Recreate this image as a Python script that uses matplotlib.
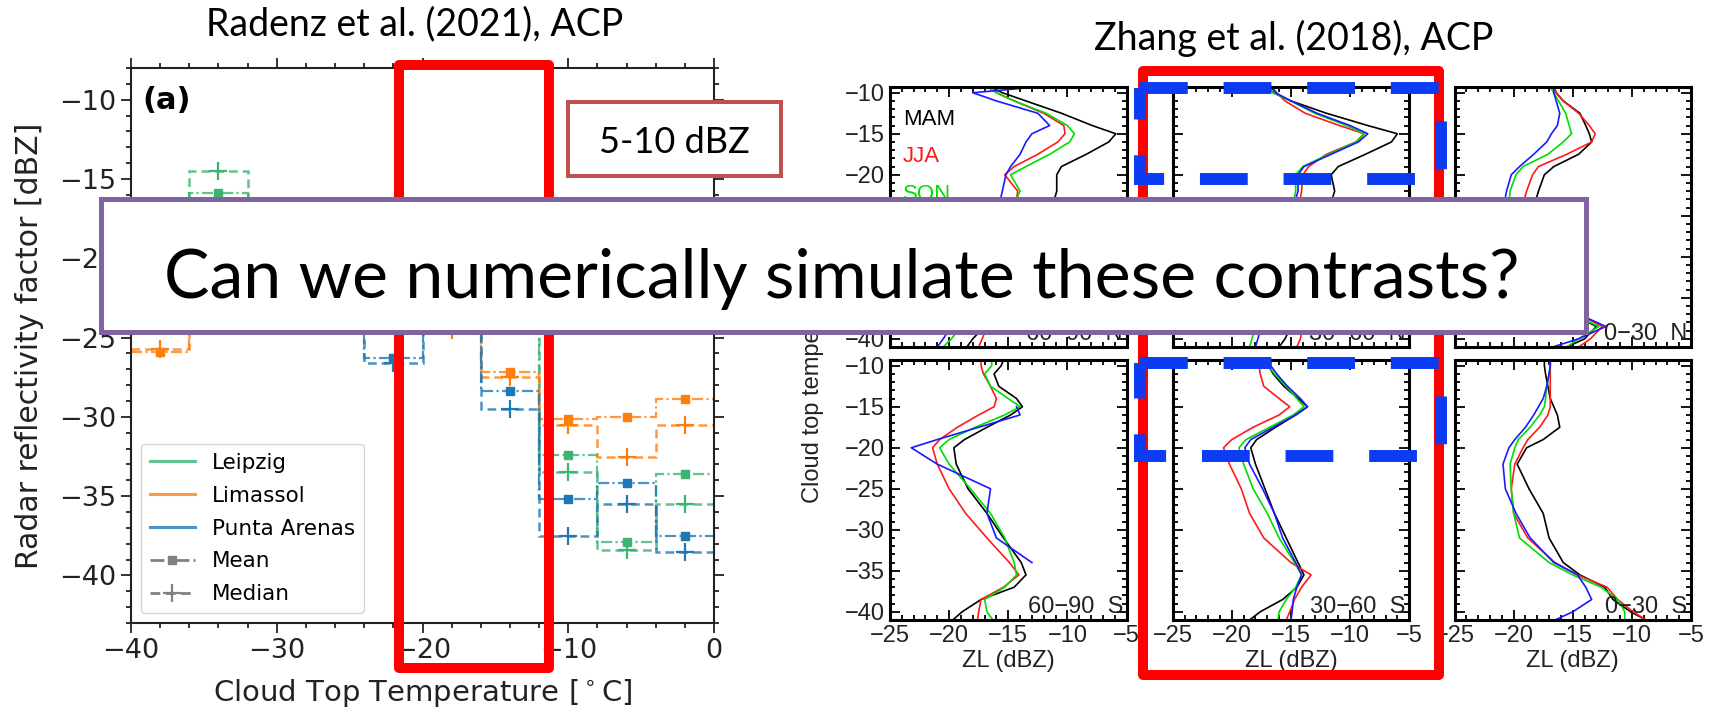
import matplotlib
matplotlib.use("Agg")
import matplotlib.pyplot as plt
import numpy as np
from matplotlib.lines import Line2D
from matplotlib.patches import Rectangle
from matplotlib.ticker import MultipleLocator

# ---------------- data: Radenz et al. (2021), binned by cloud top temperature
ctt_edges = [-40, -36, -32, -28, -24, -20, -16, -12, -8, -4, 0]
ctt_centers = [-38, -34, -30, -26, -22, -18, -14, -10, -6, -2]

leipzig_mean = [-19.0, -15.9, -18.5, -20.0, -21.5, -20.5, -22.0, -32.4, -37.9, -33.6]
leipzig_median = [-20.5, -14.5, -19.5, -21.5, -23.0, -22.0, -23.5, -33.5, -38.4, -35.5]
limassol_mean = [-25.9, -21.0, -22.0, -23.5, -23.0, -24.0, -27.15, -30.15, -30.0, -28.9]
limassol_median = [-25.7, -22.0, -23.0, -24.0, -24.0, -24.5, -27.5, -30.5, -32.5, -30.5]
punta_mean = [-20.0, -19.0, -21.0, -22.0, -26.3, -23.0, -28.4, -35.2, -34.2, -37.5]
punta_median = [-21.0, -20.0, -22.0, -23.0, -26.6, -24.0, -29.5, -37.5, -35.5, -38.5]

site_names = ["Leipzig", "Limassol", "Punta Arenas"]
site_colors = ["#3cb371", "#ff7f0e", "#1f77b4"]

# ---------------- data: Zhang et al. (2018), ZL profiles per season
zl_temp = [-9.3, -10, -11, -12.5, -14, -15, -16, -17.5, -19, -20,
           -22, -25, -28, -31, -34, -35.5, -37, -38.5, -40, -41]
seasons = ["MAM", "JJA", "SON", "DJF"]
season_colors = ["black", "#ff1a1a", "#00dd00", "#1a1aff"]
nan = np.nan

zl_60_90N = [
    [-16.5, -15.5, -13.5, -10.5, -7.9, -5.9, -6.5, -8.4, -10.5, -10.9, -10.9, -11.5, -12.0, -13.0, -14.0, -15.0, -16.0, -17.0, -18.0, -18.5],
    [-16.3, -16.0, -14.5, -12.0, -10.3, -10.2, -10.8, -12.5, -14.5, -15.3, -14.2, -14.5, -15.0, -15.5, -16.0, -16.3, -16.5, -16.8, -17.2, -17.5],
    [-16.8, -16.0, -14.5, -11.8, -10.0, -9.4, -9.8, -11.5, -13.5, -14.8, -14.0, -15.0, -16.0, -17.0, -17.5, -18.0, -18.5, -19.0, -19.8, -20.5],
    [-12.6, -18.0, -16.0, -12.5, -11.5, -13.0, -13.5, -14.0, -14.8, -15.2, -15.5, -16.0, -17.0, -18.0, -18.5, -18.8, -19.2, -19.8, -20.5, -21.0],
]
zl_30_60N = [
    [-16.9, -16.5, -15.0, -12.0, -8.5, -6.0, -6.5, -8.7, -11.0, -11.6, -11.3, -12.0, -12.5, -13.0, -13.5, -14.0, -14.5, -15.0, -15.5, -16.0],
    [-16.6, -16.2, -15.5, -13.8, -10.9, -8.8, -9.5, -12.0, -13.5, -14.0, -14.1, -14.5, -15.0, -15.0, -14.5, -14.5, -14.2, -14.0, -14.2, -14.5],
    [-16.9, -16.5, -15.0, -13.0, -10.3, -8.8, -9.5, -11.8, -14.0, -14.6, -14.6, -15.0, -15.5, -16.0, -16.5, -17.0, -17.5, -18.0, -18.3, -18.5],
    [-16.7, -16.3, -15.0, -12.8, -10.0, -8.5, -9.3, -11.6, -13.9, -14.4, -14.4, -15.0, -15.5, -16.0, -16.5, -17.0, -17.2, -17.5, -17.8, -18.0],
]
zl_0_30N = [
    [-16.6, -16.4, -15.8, -14.4, -13.9, -13.6, -13.4, -14.5, -16.6, -17.4, -17.9, -18.5, -18.5, -18.0, -17.5, -16.5, -15.0, -13.0, -14.0, -15.5],
    [-16.6, -16.4, -15.8, -14.5, -13.6, -13.1, -13.4, -15.5, -17.9, -18.4, -18.9, -19.5, -19.5, -19.0, -18.0, -16.5, -14.5, -12.5, -13.5, -14.5],
    [-16.9, -16.6, -16.2, -15.6, -15.3, -15.1, -15.8, -17.1, -19.2, -19.8, -20.3, -20.5, -20.5, -20.0, -18.5, -17.0, -15.0, -12.8, -14.5, -15.5],
    [-16.6, -16.6, -16.4, -16.1, -16.3, -16.8, -17.2, -18.3, -19.5, -20.2, -20.6, -21.0, -21.0, -20.5, -19.0, -17.0, -14.5, -12.2, -14.5, -16.7],
]
zl_60_90S = [
    [-15.4, -15.6, -16.2, -15.8, -14.3, -13.8, -14.8, -16.8, -18.7, -19.6, -19.4, -18.4, -16.8, -15.4, -13.9, -13.5, -14.5, -17.3, -18.9, -19.7],
    [-17.3, -17.3, -17.1, -16.5, -16.0, -16.2, -17.5, -19.3, -20.8, -21.4, -21.0, -20.0, -18.6, -16.8, -14.9, -14.1, -15.4, -17.3, -17.5, -17.6],
    [-16.4, -16.4, -17.0, -16.5, -15.0, -14.0, -15.3, -17.8, -20.0, -20.8, -20.0, -18.2, -16.5, -15.3, -14.5, -14.3, -15.3, -17.0, -16.8, -16.3],
    [nan, nan, nan, nan, nan, -14.3, -14.0, -17.5, -21.0, -23.2, -21.0, -16.5, -16.8, -16.0, -13.0, nan, nan, nan, nan, nan],
]
zl_30_60S = [
    [-16.9, -16.9, -16.5, -15.6, -14.4, -13.6, -14.6, -16.3, -17.9, -18.4, -18.0, -17.2, -16.4, -15.4, -14.4, -13.9, -14.5, -15.7, -17.6, -18.5],
    [-17.7, -17.7, -17.6, -17.3, -16.0, -15.1, -16.0, -18.2, -20.0, -20.7, -20.2, -19.2, -18.5, -17.3, -15.0, -13.3, -14.1, -14.7, -15.1, -15.4],
    [-16.9, -16.9, -16.4, -15.4, -14.5, -13.9, -14.8, -16.8, -18.8, -19.4, -19.0, -18.2, -17.0, -16.0, -14.7, -14.1, -14.6, -15.4, -16.0, -16.1],
    [-16.7, -16.7, -16.2, -15.3, -14.2, -13.6, -14.6, -16.5, -18.4, -18.9, -18.5, -17.4, -16.4, -15.7, -14.6, -14.1, -14.5, -14.8, -14.9, -15.0],
]
zl_0_30S = [
    [-17.4, -17.4, -17.3, -17.1, -16.9, -16.6, -16.3, -16.1, -17.5, -18.9, -19.7, -18.7, -17.5, -17.0, -15.8, -14.4, -12.3, -11.6, -10.1, -8.8],
    [-16.9, -16.9, -16.9, -16.9, -16.9, -16.9, -17.1, -17.8, -18.8, -19.2, -19.9, -20.2, -20.0, -18.8, -16.5, -14.6, -12.1, -11.2, -9.9, -8.8],
    [-16.9, -16.9, -17.0, -17.2, -17.3, -17.4, -17.8, -18.6, -19.6, -19.9, -20.3, -20.2, -20.0, -19.5, -17.0, -15.0, -12.6, -11.2, -10.6, -10.6],
    [-16.9, -16.9, -17.0, -17.2, -17.5, -17.9, -18.3, -19.0, -19.9, -20.4, -20.9, -20.7, -19.8, -18.6, -16.6, -14.6, -13.9, -13.4, -15.0, -16.5],
]
panel_data = [zl_60_90N, zl_30_60N, zl_0_30N, zl_60_90S, zl_30_60S, zl_0_30S]
panel_names = ["60\u221290  N", "30\u221260  N", "0\u221230  N",
               "60\u221290  S", "30\u221260  S", "0\u221230  S"]

W, H = 1719, 710
slide_font = "Lato"
idl_font = "Liberation Sans"


def px_rect(x0, y0, x1, y1):
    return [x0 / W, 1 - y1 / H, (x1 - x0) / W, (y1 - y0) / H]


fig = plt.figure(figsize=(W / 100, H / 100), dpi=100)

# ---------------- left figure
ax = fig.add_axes(px_rect(131, 68, 714, 623))
for name, col, mn, md in zip(site_names, site_colors,
                             [leipzig_mean, limassol_mean, punta_mean],
                             [leipzig_median, limassol_median, punta_median]):
    ax.stairs(mn, ctt_edges, baseline=None, color=col, lw=1.6, alpha=0.8,
              linestyle=(0, (5, 1.5, 1, 1.5)))
    ax.stairs(md, ctt_edges, baseline=None, color=col, lw=1.8, alpha=0.8,
              linestyle=(0, (3.5, 2)))
    ax.plot(ctt_centers, mn, "s", color=col, ms=6)
    ax.plot(ctt_centers, md, "+", color=col, ms=13, mew=1.6)

ax.set_xlim(-40, 0)
ax.set_ylim(-43, -8)
ax.xaxis.set_major_locator(MultipleLocator(10))
ax.xaxis.set_minor_locator(MultipleLocator(2))
ax.yaxis.set_major_locator(MultipleLocator(5))
ax.yaxis.set_minor_locator(MultipleLocator(1))
ax.tick_params(which="both", direction="out", top=True, right=True,
               labelsize=19.5, width=1.3, colors="#222222")
ax.tick_params(which="major", length=7.2)
ax.tick_params(which="minor", length=3.6)
for s in ax.spines.values():
    s.set_linewidth(1.5)
    s.set_color("#222222")
ax.set_xlabel(r"Cloud Top Temperature [$^\circ$C]", fontsize=21, color="#222222")
ax.set_ylabel("Radar reflectivity factor [dBZ]", fontsize=21.5, color="#222222")
ax.xaxis.set_label_coords(0.5, -0.097)
ax.yaxis.set_label_coords(-0.149, 0.5)
ax.text(0.019, 0.968, "(a)", transform=ax.transAxes, fontsize=22,
        fontweight="bold", va="top", ha="left")

handles = [Line2D([], [], color=c, lw=2.2, alpha=0.8) for c in site_colors]
handles.append(Line2D([], [], color="grey", lw=2, ls=(0, (5, 1.5, 1, 1.5)), marker="s", ms=6))
handles.append(Line2D([], [], color="grey", lw=2, ls=(0, (3.5, 2)), marker="+", ms=13, mew=1.6))
ax.legend(handles, site_names + ["Mean", "Median"], loc="lower left",
          bbox_to_anchor=(0.017, 0.018), borderaxespad=0, fontsize=15.5,
          labelspacing=0.6, handlelength=2.1, handletextpad=0.8)

# ---------------- right figure (2 x 3 panels)
col_x = [890, 1172.7, 1454.5]
row_y = [87, 360]
pw, ph = 236.5, 260
for k, prof in enumerate(panel_data):
    r, c = divmod(k, 3)
    a = fig.add_axes(px_rect(col_x[c], row_y[r], col_x[c] + pw, row_y[r] + ph))
    for zl, col in zip(prof, season_colors):
        a.plot(zl, zl_temp, color=col, lw=1.2)
    a.set_xlim(-25, -5)
    a.set_ylim(-41, -9.3)
    a.xaxis.set_major_locator(MultipleLocator(5))
    a.xaxis.set_minor_locator(MultipleLocator(1))
    a.yaxis.set_major_locator(MultipleLocator(5))
    a.yaxis.set_minor_locator(MultipleLocator(1))
    a.tick_params(which="both", direction="in", top=True, right=True,
                  width=1.3, labelsize=17, labelcolor="#222222")
    a.tick_params(which="major", length=7)
    a.tick_params(which="minor", length=3.5)
    for lab in a.get_xticklabels() + a.get_yticklabels():
        lab.set_fontfamily(idl_font)
    for s in a.spines.values():
        s.set_linewidth(2.2)
    if c > 0:
        a.tick_params(labelleft=False)
    if r == 0:
        a.tick_params(labelbottom=False)
    else:
        a.set_xlabel("ZL (dBZ)", fontsize=17, family=idl_font, labelpad=2,
                     color="#222222")
    a.text(0.985, 0.027, panel_names[k], transform=a.transAxes, ha="right",
           va="baseline", fontsize=17, family=idl_font, color="#222222")
    if k == 0:
        for j, (sname, col) in enumerate(zip(seasons, season_colors)):
            a.text(0.055, 0.854 - 0.144 * j, sname, transform=a.transAxes,
                   ha="left", va="baseline", fontsize=16, family=idl_font,
                   color=col)

# ---------------- slide overlay: titles, boxes, question
ov = fig.add_axes([0, 0, 1, 1], facecolor="none")
ov.set_xlim(0, W)
ov.set_ylim(H, 0)
ov.axis("off")

# shared y label of the right figure (its upper part sits under the box)
ov.text(813, 503, "Cloud top temperature (\u00b0C)", rotation=90,
        rotation_mode="anchor", ha="left", va="center", fontsize=17,
        family=idl_font, color="#222222", zorder=1)

ov.text(415, 35, "Radenz et al. (2021), ACP", ha="center", va="baseline",
        fontsize=27, family=slide_font)
ov.text(1294, 50, "Zhang et al. (2018), ACP", ha="center", va="baseline",
        fontsize=27, family=slide_font)

red = "#ff0000"
ov.add_patch(Rectangle((399, 65), 150, 603, fill=False, ec=red, lw=7.2,
                       joinstyle="round", zorder=3))
ov.add_patch(Rectangle((1143, 71), 296, 604, fill=False, ec=red, lw=7.2,
                       joinstyle="round", zorder=3))

blue = "#0b3cf2"
for y0, y1 in [(88, 179), (363, 456)]:
    ov.add_patch(Rectangle((1140, y0), 301, y1 - y0, fill=False, ec=blue,
                           lw=8.6, linestyle=(0, (4, 3)), capstyle="butt",
                           zorder=4))

ov.add_patch(Rectangle((568, 102), 213, 74, fc="white", ec="#c0504d", lw=2.9,
                       zorder=5))
ov.text(674.5, 153, "5-10 dBZ", ha="center", va="baseline", fontsize=26,
        family=slide_font, zorder=6)

ov.add_patch(Rectangle((101, 199), 1485, 133, fc="white", ec="#8064a2", lw=3.6,
                       zorder=7))
ov.text(842, 298, "Can we numerically simulate these contrasts?", ha="center",
        va="baseline", fontsize=49, family=slide_font, zorder=8)

# institute logo, almost entirely below the bottom edge
ov.text(1470, 767, "TROPOS", ha="left", va="baseline", fontsize=52,
        fontweight="bold", color="#7088ad", family=slide_font, zorder=2,
        clip_on=True)

fig.savefig("out.png", dpi=100)
